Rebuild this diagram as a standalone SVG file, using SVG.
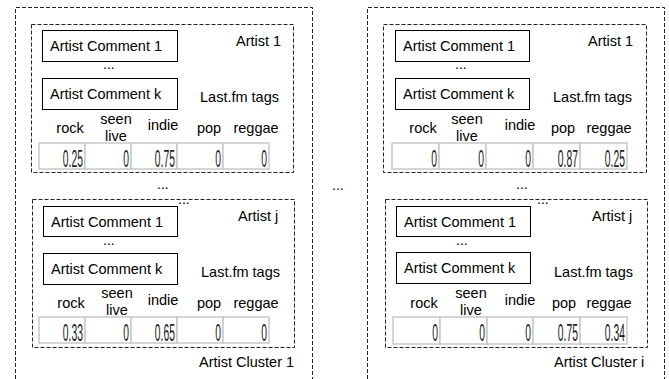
<svg xmlns="http://www.w3.org/2000/svg" width="669" height="379" viewBox="0 0 669 379">
<style>
text{font-family:"Liberation Sans",Arial,sans-serif;font-size:14.5px;fill:#000}
.dash{fill:none;stroke:#222;stroke-width:1;stroke-dasharray:4 2}
.box{fill:#fff;stroke:#000;stroke-width:1}
.cell{fill:#fff;stroke:#c8c8c8;stroke-width:1.5}
.tag{text-anchor:middle}
.num{text-anchor:end;font-size:23px;fill:#222}
.dots{font-size:14px}
</style>
<rect width="669" height="379" fill="#fff"/>

<!-- Cluster 1 -->
<g id="cluster1">
<path class="dash" d="M15.5,379 V7.5 H312.5 V379"/>
<text x="199" y="367">Artist Cluster 1</text>
<text class="dots" x="157" y="189">...</text>
</g>

<g id="artist1-c1">
<rect class="dash" x="31.5" y="24.5" width="262" height="148"/>
<text x="236" y="46">Artist 1</text>
<g id="a1c1-comment1"><rect class="box" x="42.5" y="30.5" width="135" height="31"/><text x="50" y="51">Artist Comment 1</text></g>
<text class="dots" x="103" y="69">...</text>
<g id="a1c1-commentk"><rect class="box" x="42.5" y="78.5" width="135" height="31"/><text x="50" y="99">Artist Comment k</text></g>
<text x="200" y="102">Last.fm tags</text>
<text class="tag" x="70" y="133">rock</text>
<text class="tag" x="116" y="124">seen</text>
<text class="tag" x="116" y="141">live</text>
<text class="tag" x="163" y="130">indie</text>
<text class="tag" x="209" y="133">pop</text>
<text class="tag" x="256" y="133">reggae</text>
<g>
<rect class="cell" x="39" y="143" width="46" height="26"/><rect class="cell" x="85" y="143" width="46" height="26"/><rect class="cell" x="131" y="143" width="46" height="26"/><rect class="cell" x="177" y="143" width="46" height="26"/><rect class="cell" x="223" y="143" width="46" height="26"/>
<text class="num" transform="translate(83,167) scale(0.45,1)">0.25</text>
<text class="num" transform="translate(129,167) scale(0.45,1)">0</text>
<text class="num" transform="translate(175,167) scale(0.45,1)">0.75</text>
<text class="num" transform="translate(221,167) scale(0.45,1)">0</text>
<text class="num" transform="translate(267,167) scale(0.45,1)">0</text>
</g>
</g>

<g id="artistj-c1">
<rect class="dash" x="32.5" y="199.5" width="262" height="148"/>
<text class="dots" x="178" y="204">...</text>
<text x="238" y="221">Artist j</text>
<g id="ajc1-comment1"><rect class="box" x="43.5" y="206.5" width="134" height="30"/><text x="51" y="227">Artist Comment 1</text></g>
<text class="dots" x="103" y="245">...</text>
<g id="ajc1-commentk"><rect class="box" x="43.5" y="253.5" width="134" height="31"/><text x="51" y="274">Artist Comment k</text></g>
<text x="201" y="277">Last.fm tags</text>
<text class="tag" x="71" y="308">rock</text>
<text class="tag" x="117" y="298">seen</text>
<text class="tag" x="117" y="315">live</text>
<text class="tag" x="163" y="305">indie</text>
<text class="tag" x="209" y="308">pop</text>
<text class="tag" x="256" y="308">reggae</text>
<g>
<rect class="cell" x="39" y="317" width="46" height="26"/><rect class="cell" x="85" y="317" width="46" height="26"/><rect class="cell" x="131" y="317" width="46" height="26"/><rect class="cell" x="177" y="317" width="46" height="26"/><rect class="cell" x="223" y="317" width="46" height="26"/>
<text class="num" transform="translate(83,341) scale(0.45,1)">0.33</text>
<text class="num" transform="translate(129,341) scale(0.45,1)">0</text>
<text class="num" transform="translate(175,341) scale(0.45,1)">0.65</text>
<text class="num" transform="translate(221,341) scale(0.45,1)">0</text>
<text class="num" transform="translate(267,341) scale(0.45,1)">0</text>
</g>
</g>

<text class="dots" x="332" y="190">...</text>

<!-- Cluster i -->
<g id="clusteri">
<path class="dash" d="M367.5,379 V7.5 H664.5 V379"/>
<text x="554" y="367">Artist Cluster i</text>
<text class="dots" x="516" y="189">...</text>
</g>

<g id="artist1-ci">
<rect class="dash" x="383.5" y="24.5" width="263" height="148"/>
<text x="588" y="46">Artist 1</text>
<g id="a1ci-comment1"><rect class="box" x="395.5" y="30.5" width="134" height="31"/><text x="403" y="51">Artist Comment 1</text></g>
<text class="dots" x="455" y="69">...</text>
<g id="a1ci-commentk"><rect class="box" x="395.5" y="78.5" width="134" height="31"/><text x="403" y="99">Artist Comment k</text></g>
<text x="553" y="102">Last.fm tags</text>
<text class="tag" x="423" y="133">rock</text>
<text class="tag" x="467" y="124">seen</text>
<text class="tag" x="467" y="141">live</text>
<text class="tag" x="520" y="130">indie</text>
<text class="tag" x="563" y="133">pop</text>
<text class="tag" x="609" y="133">reggae</text>
<g>
<rect class="cell" x="392" y="143" width="47" height="26"/><rect class="cell" x="439" y="143" width="47" height="26"/><rect class="cell" x="486" y="143" width="47" height="26"/><rect class="cell" x="533" y="143" width="47" height="26"/><rect class="cell" x="580" y="143" width="47" height="26"/>
<text class="num" transform="translate(437,167) scale(0.45,1)">0</text>
<text class="num" transform="translate(484,167) scale(0.45,1)">0</text>
<text class="num" transform="translate(531,167) scale(0.45,1)">0</text>
<text class="num" transform="translate(578,167) scale(0.45,1)">0.87</text>
<text class="num" transform="translate(625,167) scale(0.45,1)">0.25</text>
</g>
</g>

<g id="artistj-ci">
<rect class="dash" x="385.5" y="199.5" width="262" height="148"/>
<text class="dots" x="537" y="204">...</text>
<text x="592" y="221">Artist j</text>
<g id="ajci-comment1"><rect class="box" x="396.5" y="206.5" width="134" height="30"/><text x="404" y="227">Artist Comment 1</text></g>
<text class="dots" x="456" y="245">...</text>
<g id="ajci-commentk"><rect class="box" x="396.5" y="252.5" width="134" height="31"/><text x="404" y="273">Artist Comment k</text></g>
<text x="554" y="277">Last.fm tags</text>
<text class="tag" x="424" y="308">rock</text>
<text class="tag" x="471" y="298">seen</text>
<text class="tag" x="471" y="315">live</text>
<text class="tag" x="520" y="305">indie</text>
<text class="tag" x="564" y="308">pop</text>
<text class="tag" x="609" y="308">reggae</text>
<g>
<rect class="cell" x="393" y="317" width="47" height="27"/><rect class="cell" x="440" y="317" width="47" height="27"/><rect class="cell" x="487" y="317" width="46" height="27"/><rect class="cell" x="533" y="317" width="47" height="27"/><rect class="cell" x="580" y="317" width="47" height="27"/>
<text class="num" transform="translate(438,341) scale(0.45,1)">0</text>
<text class="num" transform="translate(485,341) scale(0.45,1)">0</text>
<text class="num" transform="translate(531,341) scale(0.45,1)">0</text>
<text class="num" transform="translate(578,341) scale(0.45,1)">0.75</text>
<text class="num" transform="translate(625,341) scale(0.45,1)">0.34</text>
</g>
</g>
</svg>
